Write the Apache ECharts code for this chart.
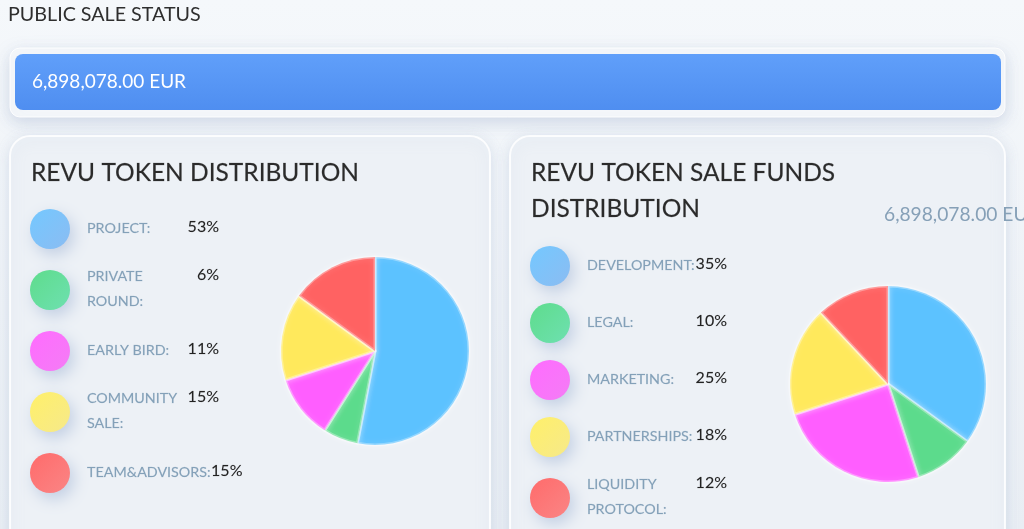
<!DOCTYPE html>
<html><head><meta charset="utf-8">
<script src="https://cdn.jsdelivr.net/npm/echarts@6/dist/echarts.min.js"></script>
<style>html,body{margin:0;padding:0;background:#eef2f7;overflow:hidden}#c{width:1024px;height:529px}</style>
</head><body><div id="c"></div>
<script>
// ---- data ----
const pageTitle = 'PUBLIC SALE STATUS';
const saleAmount = '6,898,078.00 EUR';
const distTitle = ['REVU TOKEN DISTRIBUTION'];
const distCategories = ['PROJECT:', 'PRIVATE ROUND:', 'EARLY BIRD:', 'COMMUNITY SALE:', 'TEAM&ADVISORS:'];
const distValues = [53, 6, 11, 15, 15];
const fundsTitle = ['REVU TOKEN SALE FUNDS', 'DISTRIBUTION'];
const fundsTotal = '6,898,078.00 EUR';
const fundsCategories = ['DEVELOPMENT:', 'LEGAL:', 'MARKETING:', 'PARTNERSHIPS:', 'LIQUIDITY PROTOCOL:'];
const fundsValues = [35, 10, 25, 18, 12];
const palette = ['#5cc2ff', '#5cdb8c', '#ff5eff', '#ffe95c', '#ff6262'];
const legendColors = [['#74c8ff', '#8bbcf2'], ['#5edc8c', '#6ee0b0'], ['#ff6cff', '#f47cf5'], ['#fff06a', '#f6e98a'], ['#ff6b6b', '#fa8585']];

// ---- layout helpers ----
const FONT = 'Lato, "Open Sans", sans-serif';
const ctx = document.createElement('canvas').getContext('2d');
function w(text, font) { ctx.font = font; return ctx.measureText(text).width; }
const labelFont = '14.3px ' + FONT;
const valueFont = '16px ' + FONT;

function wrap(text, maxW) {
  const words = text.split(' ');
  const lines = [];
  let cur = '';
  words.forEach(wd => {
    const t = cur ? cur + ' ' + wd : wd;
    if (cur && w(t, labelFont) > maxW) { lines.push(cur); cur = wd; } else cur = t;
  });
  if (cur) lines.push(cur);
  return lines;
}

function legend(cats, vals, circleX, labelX, valueRight, firstCy) {
  const els = [];
  let cy = firstCy;
  let prevH = null;
  cats.forEach((c, i) => {
    const lines = wrap(c, 105);
    const h = lines.length > 1 ? 65 : 57;
    if (prevH !== null) cy += prevH / 2 + h / 2;
    prevH = h;
    const col = legendColors[i];
    els.push({
      type: 'circle', shape: { cx: circleX, cy: cy, r: 20 },
      style: {
        fill: new echarts.graphic.LinearGradient(0, 0, 1, 1, [{ offset: 0, color: col[0] }, { offset: 1, color: col[1] }]),
        shadowBlur: 16, shadowColor: 'rgba(110,140,190,0.35)', shadowOffsetX: 4, shadowOffsetY: 6
      }
    });
    const blockCy = cy - 1 - (lines.length > 1 ? 0.5 : 0);
    els.push({
      type: 'text',
      style: { text: lines.join('\n'), x: labelX, y: blockCy, font: labelFont, fill: '#83a0b8', align: 'left', verticalAlign: 'middle', lineHeight: 25,
        stroke: 'rgba(131,160,184,0.35)', lineWidth: 0.4 }
    });
    const firstLineCy = blockCy - (lines.length - 1) * 12.5;
    const vt = vals[i] + '%';
    const vw = w(vt, valueFont);
    const vx = Math.max(valueRight - vw, labelX + w(lines[0], labelFont) + 0.5);
    els.push({
      type: 'text',
      style: { text: vt, x: vx, y: firstLineCy - 1, font: valueFont, fill: '#222', align: 'left', verticalAlign: 'middle',
        stroke: 'rgba(34,34,34,0.3)', lineWidth: 0.3 }
    });
  });
  return els;
}

const graphics = [];
// page title
graphics.push({ type: 'text', style: { text: pageTitle, x: 8, y: 15, font: '19.7px ' + FONT, fill: '#2e2e2e', verticalAlign: 'middle' } });
// bar panel
graphics.push({ type: 'rect', shape: { x: 10, y: 48, width: 995, height: 69, r: 10 },
  style: { fill: '#f4f7fa', stroke: 'rgba(255,255,255,0.9)', lineWidth: 1, shadowBlur: 16, shadowColor: 'rgba(140,160,195,0.35)', shadowOffsetY: 5 } });
graphics.push({ type: 'rect', shape: { x: 15, y: 54, width: 986, height: 56, r: 8 },
  style: { fill: new echarts.graphic.LinearGradient(0, 0, 0, 1, [{ offset: 0, color: '#609ffa' }, { offset: 1, color: '#4f8ef0' }]) } });
graphics.push({ type: 'text', style: { text: saleAmount, x: 32, y: 82, font: '19px ' + FONT, fill: '#ffffff', verticalAlign: 'middle' } });
// cards
[[10, 480], [510, 495]].forEach(([x, wd]) => {
  graphics.push({ type: 'rect', shape: { x: x, y: 136, width: wd, height: 440, r: 20 },
    style: { fill: '#edf1f6', stroke: 'rgba(255,255,255,0.85)', lineWidth: 2, shadowBlur: 14, shadowColor: 'rgba(150,170,200,0.3)', shadowOffsetY: 3 } });
});
// card titles
distTitle.forEach((t, i) => graphics.push({ type: 'text', style: { text: t, x: 31, y: 173 + i * 36, font: '24.5px ' + FONT, fill: '#2b2b2b', verticalAlign: 'middle', stroke: 'rgba(43,43,43,0.4)', lineWidth: 0.4 } }));
fundsTitle.forEach((t, i) => graphics.push({ type: 'text', style: { text: t, x: 531, y: 173 + i * 36, font: '24.5px ' + FONT, fill: '#2b2b2b', verticalAlign: 'middle', stroke: 'rgba(43,43,43,0.4)', lineWidth: 0.4 } }));
graphics.push({ type: 'text', style: { text: fundsTotal, x: 884, y: 215, font: '19.2px ' + FONT, fill: '#86a0b7', verticalAlign: 'middle' } });
// legends
legend(distCategories, distValues, 50, 87, 219, 229).forEach(e => graphics.push(e));
legend(fundsCategories, fundsValues, 550, 587, 727, 266).forEach(e => graphics.push(e));

function pieData(cats, vals) {
  return cats.map((c, i) => ({ name: c, value: vals[i], itemStyle: { color: palette[i] } }));
}
const pieItem = { borderColor: 'rgba(255,255,255,0.32)', borderWidth: 3, shadowBlur: 6, shadowColor: 'rgba(255,255,255,0.5)' };

const chart = echarts.init(document.getElementById('c'), null, { renderer: 'canvas' });
chart.setOption({
  animation: false,
  backgroundColor: new echarts.graphic.LinearGradient(0, 0, 0, 1, [{ offset: 0, color: '#f5f8fb' }, { offset: 1, color: '#e9eef4' }]),
  graphic: graphics,
  series: [
    { type: 'pie', center: [375, 351], radius: 94, startAngle: 90, data: pieData(distCategories, distValues),
      label: { show: false }, labelLine: { show: false }, emphasis: { disabled: true }, silent: true, itemStyle: pieItem },
    { type: 'pie', center: [888, 384], radius: 98, startAngle: 90, data: pieData(fundsCategories, fundsValues),
      label: { show: false }, labelLine: { show: false }, emphasis: { disabled: true }, silent: true, itemStyle: pieItem }
  ]
});
</script>
</body></html>
